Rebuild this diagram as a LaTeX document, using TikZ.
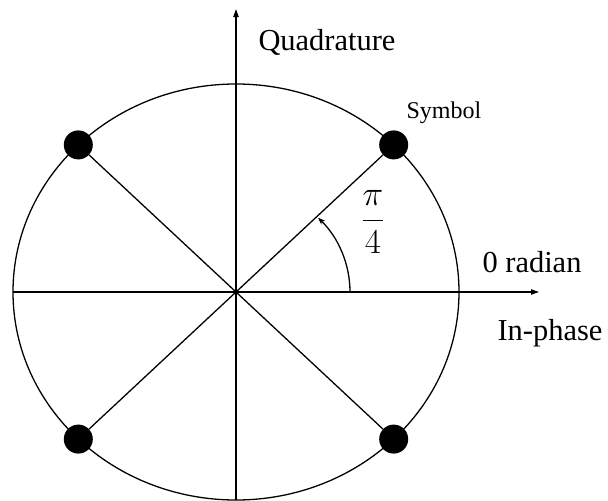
\documentclass[tikz,border=0pt]{standalone}
\usepackage{amsmath}
\usepackage{graphicx}
\usepackage{fontspec}
\setmainfont{Liberation Serif}
\usepackage{tikz}
\usetikzlibrary{arrows.meta,positioning}
\tikzset{
  axis/.style={-{Triangle[length=2.4mm,width=1.6mm]}, line width=1.1pt},
  ray/.style={line width=1.1pt},
  symdot/.style={circle, fill=black, inner sep=0pt, minimum size=0.87cm},
  biglabel/.style={font=\fontsize{26}{30}\selectfont},
  smalllabel/.style={font=\fontsize{20.5}{24}\selectfont},
  fraclabel/.style={font=\fontsize{24.88}{30}\selectfont},
}
\begin{document}
\begin{tikzpicture}[x=0.03cm, y=-0.03cm]
\useasboundingbox (0,0) rectangle (608,501);
% centre, axes and the constellation circle
\coordinate (o) at (236,292);
\coordinate (xl) at (13,292);
\coordinate (xr) at (539,292);
\coordinate (yb) at (236,500);
\coordinate (yt) at (236,9);
\draw[ray] (o) ellipse [x radius=6.69cm, y radius=6.24cm];
\draw[axis] (xl) -- (xr);
\draw[axis] (yb) -- (yt);
% the four symbols
\node[symdot] (s1) at (393.7,144.9) {};
\node[symdot] (s2) at (78.3,144.9) {};
\node[symdot] (s3) at (78.3,439.1) {};
\node[symdot] (s4) at (393.7,439.1) {};
\foreach \s in {s1,s2,s3,s4}
  \draw[ray] (o) -- (\s);
% angle mark
\coordinate (a0) at (350,292);
\draw[line width=1.1pt, -{Stealth[length=2.2mm,width=1.6mm]}] (a0) arc[start angle=0, end angle=44, x radius=3.42cm, y radius=3.21cm];
% labels
\node[biglabel] (quad) at (327,42) {Quadrature};
\node[smalllabel] (sym) at (444,113) {Symbol};
\node[fraclabel] (ang) at (373,222) {\scalebox{1.2}{$\dfrac{\pi}{4}$}};
\node[biglabel] (zero) at (532,262) {0 radian};
\node[biglabel] (inph) at (550,333) {In-phase};
\end{tikzpicture}
\end{document}
